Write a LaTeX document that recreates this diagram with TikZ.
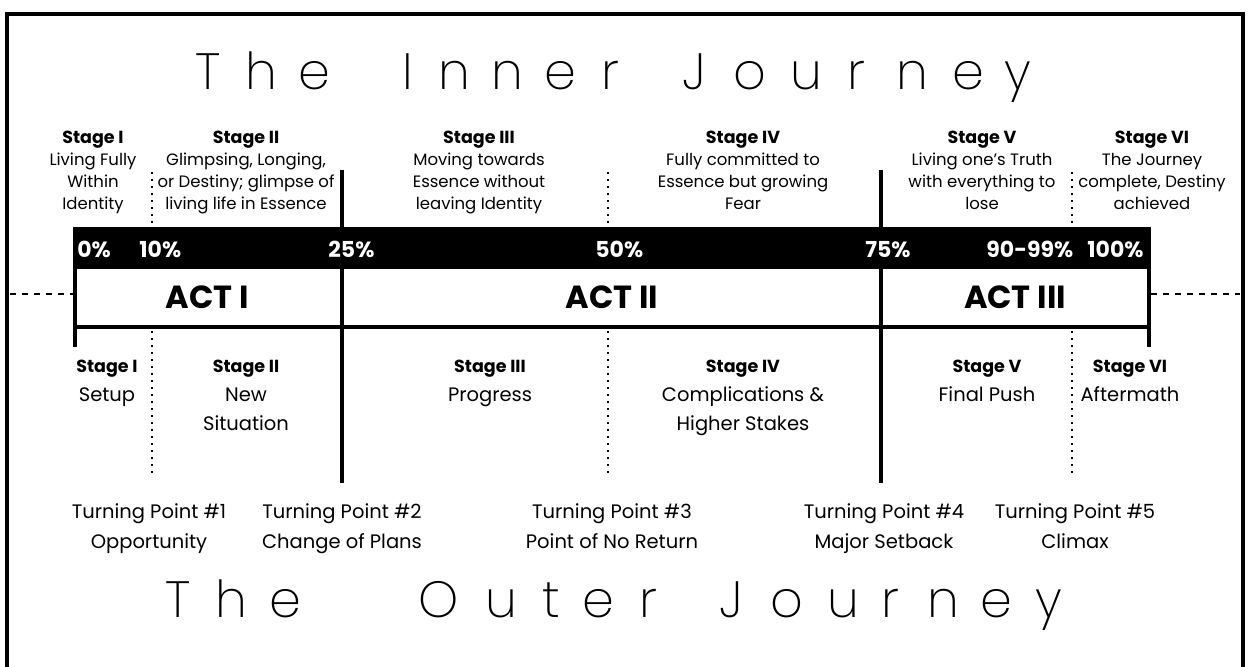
\documentclass[tikz,border=0pt]{standalone}
\usepackage{fontspec}
\setmainfont{Poppins}
\newfontfamily\titlefont{Poppins ExtraLight}
\usepackage{tikz}

\tikzset{
  titleletter/.style={anchor=base, inner sep=0pt, font=\titlefont\fontsize{25.5}{30}\selectfont},
  pct/.style={anchor=base west, inner sep=0pt, text=white, font=\bfseries\fontsize{11}{13}\selectfont},
  act/.style={anchor=base, inner sep=0pt, font=\bfseries\fontsize{16}{19}\selectfont},
  innerstage/.style={anchor=north, align=center, inner sep=0pt, font=\fontsize{8.25}{11}\selectfont},
  outerstage/.style={anchor=north, align=center, inner sep=0pt, font=\fontsize{9.75}{14.5}\selectfont},
  turnpoint/.style={anchor=north, align=center, inner sep=0pt, font=\fontsize{9.75}{15}\selectfont},
  mainline/.style={line width=2pt},
  dotline/.style={line width=1.2pt, dash pattern=on 1pt off 2.5pt},
  sideline/.style={line width=0.75pt, dash pattern=on 3pt off 3pt}
}
\newcommand{\stg}[1]{{\bfseries\fontsize{8.75}{11}\selectfont #1}}

\begin{document}
\begin{tikzpicture}[x=0.5pt, y=-0.5pt]
  \useasboundingbox (0,0) rectangle (1248,666);

  % Frame
  \draw[mainline] (7,690) |- (1243,13.5) -- (1243,690);

  % Titles
  \foreach \ch/\x [count=\i] in {T/208, h/261, e/314, I/408, n/454, n/507, e/560, r/610,
      J/694, o/750, u/806, r/856, n/912, e/968, y/1018}
    \node[titleletter] (in\i) at (\x, 89) {\ch};
  \foreach \ch/\x [count=\i] in {T/178, h/231, e/285, O/439, u/501, t/551, e/598, r/648,
      J/731, o/787, u/843, r/890, n/943, e/996, y/1049}
    \node[titleletter] (out\i) at (\x, 617) {\ch};

  % Bar and act box
  \fill (72.5, 227) rectangle (1151, 269);
  \draw[mainline] (72.5, 327) -- (1151, 327);
  \draw[mainline] (74.5, 227) -- (74.5, 347);
  \draw[mainline] (1149, 227) -- (1149, 347);
  \draw[mainline] (342, 170) -- (342, 483);
  \draw[mainline] (881, 170) -- (881, 483);
  \foreach \x in {152, 608, 1072} {
    \draw[dotline] (\x, 172) -- (\x, 227);
    \draw[dotline] (\x, 331) -- (\x, 477);
  }
  \draw[sideline] (10, 294) -- (72.5, 294);
  \draw[sideline] (1151, 294) -- (1240, 294);

  % Percentages
  \node[pct] (p0) at (77, 257) {0\%};
  \node[pct] (p10) at (139, 257) {10\%};
  \node[pct] (p25) at (328, 257) {25\%};
  \node[pct] (p50) at (595, 257) {50\%};
  \node[pct] (p75) at (865, 257) {75\%};
  \node[pct] (p90) at (986, 257) {90-99\%};
  \node[pct] (p100) at (1087, 257) {100\%};

  % Acts
  \node[act] (act1) at (207, 308) {ACT I};
  \node[act] (act2) at (612, 308) {ACT II};
  \node[act] (act3) at (1015, 308) {ACT III};

  % Inner stages
  \node[innerstage] (i1) at (93, 131) {\stg{Stage I}\\Living Fully\\Within\\Identity};
  \node[innerstage] (i2) at (246, 131) {\stg{Stage II}\\Glimpsing, Longing,\\or Destiny; glimpse of\\living life in Essence};
  \node[innerstage] (i3) at (479, 131) {\stg{Stage III}\\Moving towards\\Essence without\\leaving Identity};
  \node[innerstage] (i4) at (743, 131) {\stg{Stage IV}\\Fully committed to\\Essence but growing\\Fear};
  \node[innerstage] (i5) at (982, 131) {\stg{Stage V}\\Living one’s Truth\\with everything to\\lose};
  \node[innerstage] (i6) at (1152, 131) {\stg{Stage VI}\\The Journey\\complete, Destiny\\achieved};

  % Outer stages
  \node[outerstage] (o1) at (107, 360) {\stg{Stage I}\\Setup};
  \node[outerstage] (o2) at (246, 360) {\stg{Stage II}\\New\\Situation};
  \node[outerstage] (o3) at (490, 360) {\stg{Stage III}\\Progress};
  \node[outerstage] (o4) at (743, 360) {\stg{Stage IV}\\Complications \&\\Higher Stakes};
  \node[outerstage] (o5) at (987, 360) {\stg{Stage V}\\Final Push};
  \node[outerstage] (o6) at (1130, 360) {\stg{Stage VI}\\Aftermath};

  % Turning points
  \node[turnpoint] (tp1) at (149, 503) {Turning Point \#1\\Opportunity};
  \node[turnpoint] (tp2) at (342, 503) {Turning Point \#2\\Change of Plans};
  \node[turnpoint] (tp3) at (612, 503) {Turning Point \#3\\Point of No Return};
  \node[turnpoint] (tp4) at (884, 503) {Turning Point \#4\\Major Setback};
  \node[turnpoint] (tp5) at (1075, 503) {Turning Point \#5\\Climax};
\end{tikzpicture}
\end{document}
